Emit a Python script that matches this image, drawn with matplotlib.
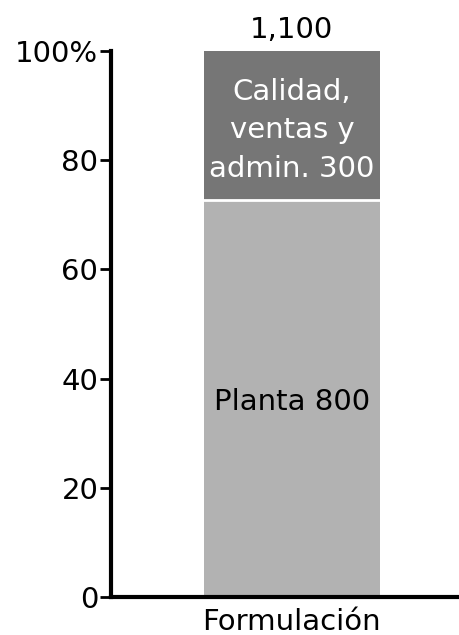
import matplotlib
matplotlib.use("Agg")
import matplotlib.pyplot as plt

# data
categoria = ["Formulación"]
planta = [800]
calidad = [300]
total = [planta[0] + calidad[0]]
yticks = [0, 20, 40, 60, 80, 100]
yticklabels = ["0", "20", "40", "60", "80", "100%"]

plt.rcParams['font.family'] = ['DejaVu Sans']
fs = 21

fig = plt.figure(figsize=(4.6, 6.35), dpi=100)
ax = fig.add_axes([0.241, 0.0598, 0.759, 0.86])

p_pl = [100 * planta[0] / total[0]]
p_ca = [100 * calidad[0] / total[0]]

w = 0.504
ax.bar([0], p_pl, width=w, color="#b2b2b2", edgecolor="none")
ax.bar([0], p_ca, bottom=p_pl, width=w, color="#767676", edgecolor="none")
ax.plot([-w / 2, w / 2], [p_pl[0], p_pl[0]], color="white", lw=2)

ax.text(0, p_pl[0] / 2 - 0.6, "Planta %d" % planta[0], ha="center", va="center", fontsize=fs)
ax.text(0, p_pl[0] + p_ca[0] / 2 - 0.9, "Calidad,\nventas y\nadmin. %d" % calidad[0],
        ha="center", va="center", fontsize=fs, color="white", linespacing=1.48)
ax.text(0, 101.3, "{:,}".format(total[0]), ha="center", va="bottom", fontsize=fs)

ax.set_xlim(-0.5186, 0.4814)
ax.set_ylim(0, 100)
ax.set_yticks(yticks)
ax.set_yticklabels(yticklabels, fontsize=fs)
ax.set_xticks([0])
ax.set_xticklabels(categoria, fontsize=fs)
ax.tick_params(axis="y", length=8, width=2, pad=1)
ax.tick_params(axis="x", length=0, pad=8)
for s in ["top", "right"]:
    ax.spines[s].set_visible(False)
for s in ["left", "bottom"]:
    ax.spines[s].set_linewidth(3)

fig.savefig("out.png", dpi=100)
